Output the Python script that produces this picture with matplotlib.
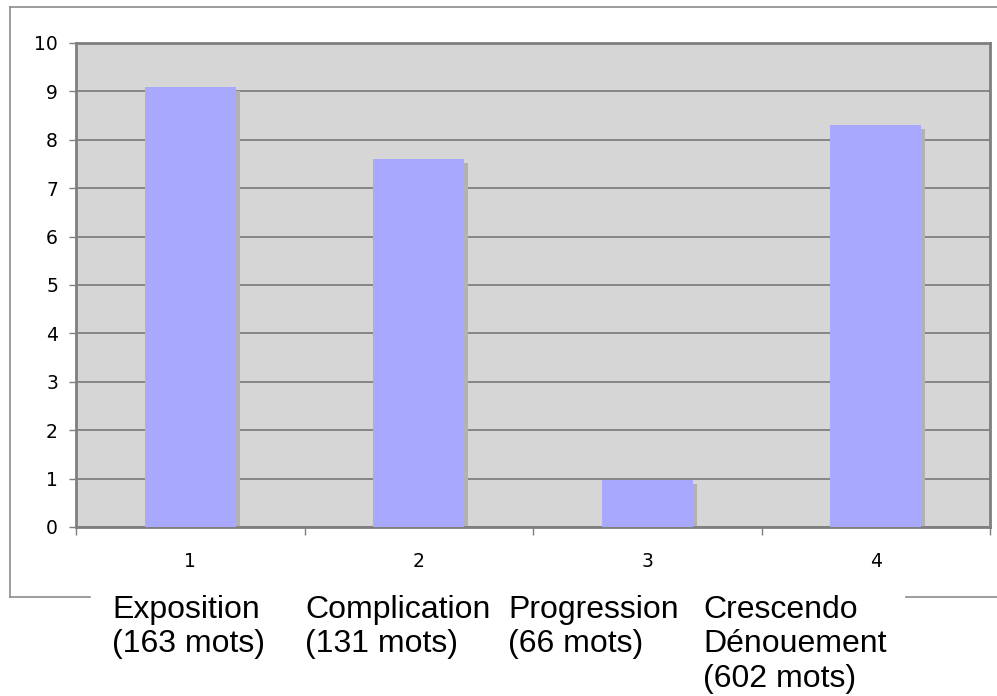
#!/usr/bin/env python3
# Bar chart of the four narrative parts, with word counts under the axis.

import matplotlib
matplotlib.use("Agg")
import matplotlib.pyplot as plt
import matplotlib.transforms as mtransforms
from matplotlib.lines import Line2D

# data
positions = [1, 2, 3, 4]
values = [9.1, 7.6, 0.98, 8.3]
tick_labels = ["1", "2", "3", "4"]
part_labels = [
    "Exposition\n(163 mots)",
    "Complication\n(131 mots)",
    "Progression\n(66 mots)",
    "Crescendo\nDénouement\n(602 mots)",
]
label_left_px = [112, 305, 508, 703]

W, H = 997, 696
fig = plt.figure(figsize=(W / 100, H / 100), dpi=100)
fig.patch.set_facecolor("white")

# plot area in pixel coords: x 76..990, y 43..527
ax = fig.add_axes([76 / W, (H - 527) / H, (990 - 76) / W, (527 - 43) / H])
ax.set_facecolor("#d6d6d6")

# shadow behind bars (shifted right/down by a few pixels)
shadow_tr = ax.transData + mtransforms.ScaledTranslation(4 / 100, -4 / 100, fig.dpi_scale_trans)
ax.bar(positions, values, width=0.4, color="#b2b2b2", zorder=2, transform=shadow_tr)
ax.bar(positions, values, width=0.4, color="#a8a8ff", zorder=3)

ax.set_xlim(0.5, 4.5)
ax.set_ylim(0, 10)
ax.set_yticks(range(0, 11))
ax.set_xticks(positions)
ax.set_xticklabels(tick_labels)
ax.set_xticks([0.5, 1.5, 2.5, 3.5, 4.5], minor=True)

ax.grid(True, axis="y", color="#7f7f7f", linewidth=1.3, zorder=1)
ax.set_axisbelow(True)
for s in ax.spines.values():
    s.set_color("#7f7f7f")
    s.set_linewidth(2)

ax.tick_params(axis="y", direction="out", length=5, width=1, color="#7f7f7f",
               labelsize=13.5, pad=8)
ax.tick_params(axis="x", which="major", length=0, labelsize=13.5, pad=18)
ax.tick_params(axis="x", which="minor", direction="out", length=6, width=1,
               color="#7f7f7f")

# outer frame (partly hidden by the labels)
frame_kw = dict(color="#8c8c8c", linewidth=1.2, transform=None)
fig.add_artist(Line2D([10, W], [H - 7, H - 7], **frame_kw))
fig.add_artist(Line2D([10, 10], [H - 7, H - 597], **frame_kw))
fig.add_artist(Line2D([10, 90], [H - 597, H - 597], **frame_kw))
fig.add_artist(Line2D([906, W], [H - 597, H - 597], **frame_kw))

for lbl, x in zip(part_labels, label_left_px):
    fig.text(x / W, (H - 595) / H, lbl, ha="left", va="top",
             fontsize=23, family=["Liberation Sans", "DejaVu Sans"],
             color="black", linespacing=1.19)

fig.savefig("out.png", dpi=100)
print("Wrote out.png")
